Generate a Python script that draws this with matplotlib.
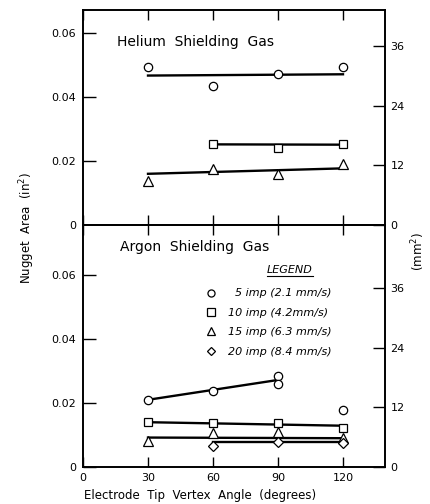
import numpy as np
import matplotlib
matplotlib.use("Agg")
import matplotlib.pyplot as plt

# nugget area vs electrode tip vertex angle (in^2)
IN2_TO_MM2 = 645.16

# Helium shielding gas
heAngles5 = [30, 60, 90, 120]
heArea5 = [0.0493, 0.0434, 0.0471, 0.0495]
heAngles10 = [60, 90, 120]
heArea10 = [0.0253, 0.0240, 0.0252]
heAngles15 = [30, 60, 90, 120]
heArea15 = [0.0138, 0.0175, 0.0160, 0.0191]

# Helium fitted lines (end points)
heFitX5 = [30, 120]
heFitY5 = [0.0467, 0.0471]
heFitX10 = [60, 120]
heFitY10 = [0.0252, 0.0251]
heFitX15 = [30, 120]
heFitY15 = [0.0160, 0.0177]

# Argon shielding gas
arAngles5 = [30, 60, 90, 90, 120]
arArea5 = [0.0209, 0.0238, 0.0284, 0.0259, 0.0178]
arAngles10 = [30, 60, 90, 120]
arArea10 = [0.0140, 0.0137, 0.0138, 0.0121]
arAngles15 = [30, 60, 90, 120]
arArea15 = [0.0082, 0.0107, 0.0110, 0.0090]
arAngles20 = [60, 90, 120]
arArea20 = [0.0066, 0.0077, 0.0075]

# Argon fitted lines (end points)
arFitX5 = [30, 90]
arFitY5 = [0.0210, 0.0272]
arFitX10 = [30, 120]
arFitY10 = [0.0140, 0.0129]
arFitX15 = [30, 120]
arFitY15 = [0.0092, 0.0090]
arFitX20 = [60, 120]
arFitY20 = [0.0079, 0.0079]

legendLabels = ["  5 imp (2.1 mm/s)", "10 imp (4.2mm/s)", "15 imp (6.3 mm/s)", "20 imp (8.4 mm/s)"]

xTicks = [0, 30, 60, 90, 120]
yTicks = [0, 0.02, 0.04, 0.06]
yTickLabels = ["0", "0.02", "0.04", "0.06"]
mmTicks = [0, 12, 24, 36]

plt.rcParams['font.family'] = ['DejaVu Sans']

W, H = 431, 504
fig = plt.figure(figsize=(W / 100, H / 100), dpi=100)
left, right = 83, 385
axTop = fig.add_axes([left / W, (H - 225) / H, (right - left) / W, 215 / H])
axBot = fig.add_axes([left / W, (H - 467) / H, (right - left) / W, 242 / H])

mk = dict(linestyle='none', markerfacecolor='white', markeredgecolor='black',
          markeredgewidth=0.9, zorder=3)
ln = dict(color='black', linewidth=1.7, zorder=2)

# helium panel
axTop.plot(heFitX5, heFitY5, **ln)
axTop.plot(heFitX10, heFitY10, **ln)
axTop.plot(heFitX15, heFitY15, **ln)
axTop.plot(heAngles5, heArea5, marker='o', markersize=6, **mk)
axTop.plot(heAngles10, heArea10, marker='s', markersize=6, **mk)
axTop.plot(heAngles15, heArea15, marker='^', markersize=6.5, **mk)

# argon panel
axBot.plot(arFitX5, arFitY5, **ln)
axBot.plot(arFitX10, arFitY10, **ln)
axBot.plot(arFitX15, arFitY15, **ln)
axBot.plot(arFitX20, arFitY20, **ln)
h5, = axBot.plot(arAngles5, arArea5, marker='o', markersize=6, **mk)
h10, = axBot.plot(arAngles10, arArea10, marker='s', markersize=6, **mk)
h15, = axBot.plot(arAngles15, arArea15, marker='^', markersize=6.5, **mk)
h20, = axBot.plot(arAngles20, arArea20, marker='D', markersize=5, **mk)

xmax = (right - left) / 65 * 30
axTop.set_ylim(0, 215 * 0.0003125)
axBot.set_ylim(0, 242 * 0.0003125)

for ax in (axTop, axBot):
    ax.set_xlim(0, xmax)
    ax.set_xticks(xTicks)
    ax.set_yticks(yTicks)
    ax.set_yticklabels(yTickLabels)
    for s in ax.spines.values():
        s.set_linewidth(1.2)
    ax.tick_params(axis='y', direction='in', length=9, width=1, labelsize=8, pad=5)
    ax.tick_params(axis='x', direction='in', length=7, width=1, top=True, labelsize=8)
    # twin axis in mm^2
    axr = ax.twinx()
    lo, hi = ax.get_ylim()
    axr.set_ylim(lo * IN2_TO_MM2, hi * IN2_TO_MM2)
    axr.set_yticks(mmTicks)
    axr.tick_params(axis='y', direction='in', length=9, width=1, labelsize=8, pad=4)
    for s in axr.spines.values():
        s.set_linewidth(1.2)

axTop.tick_params(axis='x', labelbottom=False)
axBot.tick_params(axis='x', pad=4)

axTop.text(0.113, 0.851, "Helium  Shielding  Gas", transform=axTop.transAxes,
           fontsize=10, va='center', ha='left')
axBot.text(0.123, 0.909, "Argon  Shielding  Gas", transform=axBot.transAxes,
           fontsize=10, va='center', ha='left')

# legend
axBot.text(0.685, 0.815, "LEGEND", transform=axBot.transAxes, fontsize=8,
           style='italic', ha='center', va='center')
axBot.plot([0.61, 0.76], [0.79, 0.79], transform=axBot.transAxes, color='black', lw=0.8)
axBot.legend([h5, h10, h15, h20], legendLabels, loc='upper left',
             bbox_to_anchor=(0.405, 0.738), frameon=False, borderpad=0, borderaxespad=0,
             handlelength=1, handletextpad=1.0, labelspacing=0.85, markerscale=0.85,
             prop={'style': 'italic', 'size': 8})

fig.text(27 / W, (H - 228) / H, "Nugget  Area  (in$^2$)", rotation=90,
         fontsize=8.5, ha='center', va='center')
fig.text(418 / W, (H - 252) / H, "(mm$^2$)", rotation=90,
         fontsize=8.5, ha='center', va='center')
fig.text(200 / W, (H - 495) / H, "Electrode  Tip  Vertex  Angle  (degrees)",
         fontsize=8.5, ha='center', va='center')

plt.savefig('out.png', dpi=100)
